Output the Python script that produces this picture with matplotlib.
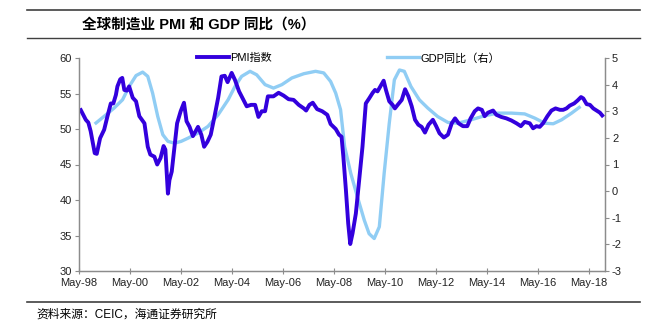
import matplotlib
matplotlib.use("Agg")
import matplotlib.pyplot as plt
from matplotlib.lines import Line2D

plt.rcParams['font.family'] = ['Liberation Sans', 'Noto Sans CJK SC']
plt.rcParams['axes.unicode_minus'] = False

# global manufacturing PMI (left axis), decimal years
pmi_t = [1998.37, 1998.6, 1998.7, 1998.79, 1998.95, 1999.03, 1999.16, 1999.32, 1999.45, 1999.58,
         1999.68, 1999.78, 1999.84, 1999.95, 2000.03, 2000.11, 2000.21, 2000.3, 2000.44, 2000.57,
         2000.7, 2000.9, 2001.03, 2001.13, 2001.29, 2001.4, 2001.53, 2001.65, 2001.72, 2001.82,
         2001.88, 2001.97, 2002.08, 2002.18, 2002.32, 2002.45, 2002.55, 2002.67, 2002.8, 2003.0,
         2003.13, 2003.24, 2003.37, 2003.5, 2003.66, 2003.79, 2003.92, 2004.05, 2004.16, 2004.32,
         2004.45, 2004.61, 2004.78, 2004.91, 2005.08, 2005.24, 2005.37, 2005.5, 2005.63, 2005.74,
         2005.96, 2006.16, 2006.36, 2006.55, 2006.75, 2006.95, 2007.15, 2007.24, 2007.37, 2007.5,
         2007.67, 2007.87, 2008.07, 2008.2, 2008.4, 2008.53, 2008.63, 2008.7, 2008.8, 2008.89,
         2008.97, 2009.06, 2009.19, 2009.32, 2009.45, 2009.58, 2009.71, 2009.85, 2009.94, 2010.04,
         2010.15, 2010.28, 2010.37, 2010.5, 2010.63, 2010.72, 2010.83, 2010.99, 2011.12, 2011.25,
         2011.38, 2011.51, 2011.64, 2011.77, 2011.9, 2012.04, 2012.21, 2012.34, 2012.47, 2012.64,
         2012.8, 2012.95, 2013.08, 2013.22, 2013.39, 2013.56, 2013.69, 2013.85, 2013.98, 2014.13,
         2014.24, 2014.37, 2014.57, 2014.7, 2014.89, 2015.09, 2015.29, 2015.49, 2015.66, 2015.81,
         2016.01, 2016.14, 2016.27, 2016.4, 2016.53, 2016.7, 2016.86, 2017.02, 2017.19, 2017.32,
         2017.45, 2017.58, 2017.75, 2017.88, 2018.02, 2018.11, 2018.24, 2018.37, 2018.5, 2018.63,
         2018.76, 2018.9]
pmi_v = [52.9, 51.3, 50.9, 49.7, 46.6, 46.5, 48.7, 49.9, 51.8, 53.6,
         53.6, 54.8, 56.0, 57.0, 57.2, 55.5, 55.4, 56.0, 54.4, 53.9,
         51.8, 50.8, 47.5, 46.4, 46.1, 45.0, 45.9, 47.6, 47.1, 40.9,
         42.8, 44.0, 47.5, 50.8, 52.5, 53.7, 51.1, 50.3, 49.0, 50.3,
         49.2, 47.5, 48.2, 49.2, 52.0, 54.4, 57.4, 57.5, 56.6, 57.9,
         56.9, 55.3, 54.1, 53.2, 53.4, 53.4, 51.7, 52.5, 52.5, 54.6,
         54.6, 55.1, 54.7, 54.2, 54.1, 53.4, 52.9, 52.6, 53.4, 53.7,
         52.8, 52.5, 52.0, 50.7, 50.0, 49.2, 48.9, 46.1, 41.4, 36.7,
         33.8, 35.3, 38.1, 42.8, 47.5, 53.6, 54.3, 55.1, 55.5, 55.3,
         56.0, 56.8, 55.5, 53.9, 53.4, 52.9, 53.4, 54.1, 55.6, 54.6,
         53.2, 51.3, 50.6, 50.3, 49.5, 50.6, 51.3, 50.4, 49.4, 48.8,
         49.2, 50.8, 51.5, 50.8, 50.4, 50.4, 51.5, 52.5, 52.9, 52.7,
         51.8, 52.3, 52.6, 52.0, 51.7, 51.5, 51.2, 50.8, 50.4, 51.0,
         50.8, 50.1, 50.4, 50.3, 50.8, 51.8, 52.6, 52.9, 52.7, 52.7,
         52.9, 53.3, 53.6, 54.0, 54.5, 54.3, 53.5, 53.4, 52.9, 52.6,
         52.3, 51.7]

# global GDP yoy (right axis)
gdp_t = [1998.95, 1999.32, 1999.71, 2000.04, 2000.3, 2000.57, 2000.83, 2001.03, 2001.22, 2001.42,
         2001.62, 2001.82, 2002.08, 2002.34, 2002.61, 2003.0, 2003.39, 2003.79, 2004.18, 2004.45,
         2004.71, 2005.04, 2005.3, 2005.63, 2005.96, 2006.29, 2006.68, 2007.15, 2007.61, 2007.93,
         2008.2, 2008.4, 2008.59, 2008.75, 2008.99, 2009.25, 2009.52, 2009.71, 2009.91, 2010.11,
         2010.3, 2010.5, 2010.7, 2010.9, 2011.09, 2011.35, 2011.68, 2012.01, 2012.4, 2012.8,
         2013.19, 2013.71, 2014.24, 2014.76, 2015.29, 2015.81, 2016.21, 2016.6, 2016.93, 2017.26,
         2017.65, 2018.0]
gdp_v = [2.52, 2.81, 3.12, 3.43, 3.93, 4.34, 4.47, 4.31, 3.68, 2.81,
         2.12, 1.87, 1.80, 1.87, 1.99, 2.18, 2.43, 2.87, 3.43, 3.93,
         4.31, 4.50, 4.37, 4.0, 3.87, 4.0, 4.25, 4.41, 4.50, 4.44,
         4.12, 3.68, 3.06, 1.67, 0.67, -0.21, -1.09, -1.6, -1.78, -1.34,
         0.67, 2.55, 4.18, 4.55, 4.5, 3.93, 3.43, 3.12, 2.8, 2.58,
         2.55, 2.68, 2.83, 2.93, 2.93, 2.9, 2.74, 2.55, 2.53, 2.68,
         2.93, 3.18]

tick_years = list(range(1998, 2019, 2))
tick_labels = ["May-%02d" % (y % 100) for y in tick_years]

pmi_color = "#3300dd"
gdp_color = "#90cdf4"
frame = "#8c8c8c"

fig = plt.figure(figsize=(6.66, 3.23), dpi=100)
ax = fig.add_axes([79 / 666, 1 - 271 / 323, 526 / 666, 213 / 323])
ax2 = ax.twinx()

ax2.plot(gdp_t, gdp_v, color=gdp_color, lw=2.4, solid_capstyle="butt")
ax.plot(pmi_t, pmi_v, color=pmi_color, lw=2.8, solid_capstyle="butt")
ax.set_zorder(ax2.get_zorder() + 1)
ax.patch.set_visible(False)

ax.set_xlim(1998 + 4.4 / 12, 2018.96)
ax.set_ylim(30, 60)
ax2.set_ylim(-3, 5)
ax.set_yticks(range(30, 61, 5))
ax2.set_yticks(range(-3, 6))
ax.set_xticks([y + 4 / 12 for y in tick_years])
ax.set_xticklabels(tick_labels)

for a in (ax, ax2):
    a.spines["top"].set_visible(False)
    for s in ("left", "right", "bottom"):
        a.spines[s].set_color(frame)
        a.spines[s].set_linewidth(0.9)
    a.tick_params(axis="y", direction="out", length=3, width=0.8, color=frame,
                  labelsize=8, labelcolor="#222222", pad=2)
ax.tick_params(axis="x", direction="inout", length=4, width=0.8, color=frame,
               labelsize=8, labelcolor="#222222", pad=3)

handles = [Line2D([], [], color=pmi_color, lw=2.8), Line2D([], [], color=gdp_color, lw=2.4)]
ax.legend(handles, ["PMI指数", "GDP同比（右）"], loc="center", bbox_to_anchor=(0.512, 1.0),
          ncol=2, frameon=False, fontsize=8, handlelength=2.9, handletextpad=0.1,
          columnspacing=10.4, borderaxespad=0)

# header and footer rules
for yy in (10, 38, 302):
    fig.add_artist(Line2D([27 / 666, 640 / 666], [1 - yy / 323] * 2, color="#404040",
                          lw=1.2 if yy != 38 else 1.0))

fig.text(82 / 666, 1 - 25 / 323, "全球制造业 PMI 和 GDP 同比（%）", fontsize=10.5,
         fontweight="bold", va="center", ha="left")
fig.text(36 / 666, 1 - 315 / 323, "资料来源：CEIC，海通证券研究所", fontsize=8.5,
         va="center", ha="left")

fig.savefig("out.png", dpi=100)
